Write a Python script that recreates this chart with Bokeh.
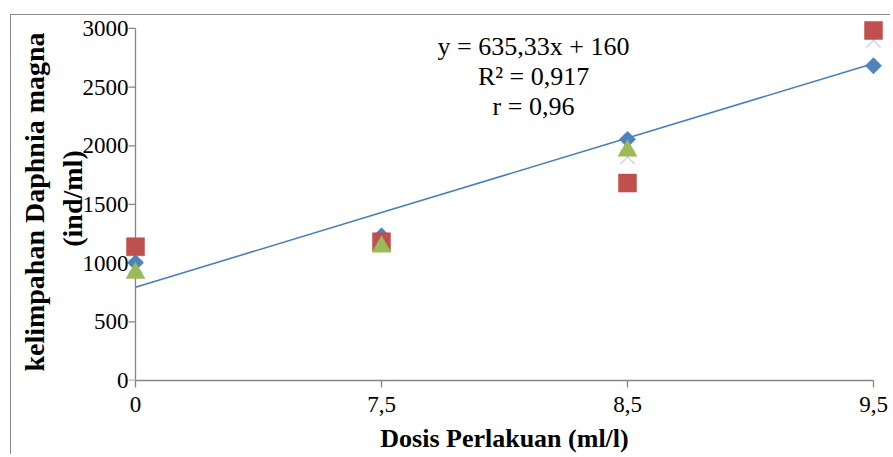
import numpy as np
from bokeh.plotting import figure
from bokeh.models import Range1d, FixedTicker
from bokeh.models import Label
from bokeh.embed import file_html
from bokeh.resources import INLINE

# ---- data ----
x_labels = ["0", "7,5", "8,5", "9,5"]
x_pos = [1, 2, 3, 4]
y_ticks = [0, 500, 1000, 1500, 2000, 2500, 3000]
series_blue = [1004, 1233, 2055, 2682]     # diamonds
series_red = [1140, 1182, 1682, 2983]      # squares
series_green = [915, 1140, 1958, np.nan]   # triangles
series_x = [975, 1160, 1905, 2898]         # pale crosses
trend_slope = 635.33
trend_intercept = 160
eq_lines = ["y = 635,33x + 160", "R² = 0,917", "r = 0,96"]

FONT = "Liberation Serif"
AX = "#868686"

W, H = 880, 440
PXX = 246.0                # px per category step
PXY = 0.118                # px per unit on y
PADX = 15 / PXX            # padding so edge markers are not clipped
PADY_TOP = 12 / PXY
p = figure(width=W, height=H, output_backend="svg", toolbar_location=None,
           x_range=Range1d(1 - PADX, 4 + PADX), y_range=Range1d(0, 3000 + PADY_TOP),
           min_border_left=109, min_border_right=3, min_border_top=1,
           min_border_bottom=73)
p.margin = (14, 0, 0, 10)
p.styles = {"border-top": "1px solid #8c8c8c", "border-left": "1px solid #8c8c8c"}
p.outline_line_color = None
p.xgrid.visible = False
p.ygrid.visible = False
p.background_fill_color = "white"
p.border_fill_color = "white"

# x axis
xa = p.xaxis[0]
xa.axis_line_color = AX
xa.axis_line_width = 1.3
xa.major_tick_line_color = AX
xa.major_tick_line_width = 1.3
xa.minor_tick_line_color = None
xa.major_tick_in = 0
xa.major_tick_out = 7
xa.major_label_text_font = FONT
xa.major_label_text_font_size = "23px"
xa.major_label_text_color = "black"
xa.ticker = FixedTicker(ticks=x_pos)
xa.bounds = (1, 4)
xa.major_label_overrides = {k: v for k, v in zip(x_pos, x_labels)}
xa.major_label_standoff = 9
xa.axis_label = "Dosis Perlakuan (ml/l)"
xa.axis_label_text_font = FONT
xa.axis_label_text_font_style = "bold"
xa.axis_label_text_font_size = "26px"
xa.axis_label_text_color = "black"
xa.axis_label_standoff = 9

# y axis: labels from the axis, line/ticks drawn at x = first category
ya = p.yaxis[0]
ya.ticker = FixedTicker(ticks=y_ticks)
ya.axis_line_color = None
ya.major_tick_line_color = None
ya.minor_tick_line_color = None
ya.major_tick_in = 0
ya.major_tick_out = 0
ya.major_label_standoff = -8
ya.major_label_text_font = FONT
ya.major_label_text_font_size = "23px"
ya.major_label_text_color = "black"
ya.axis_label = "kelimpahan  Daphnia magna\n(ind/ml)"
ya.axis_label_text_font = FONT
ya.axis_label_text_font_style = "bold"
ya.axis_label_text_font_size = "28px"
ya.axis_label_text_color = "black"
ya.axis_label_standoff = -8

yt = np.array(y_ticks, dtype=float)
p.segment(x0=[x_pos[0]], y0=[y_ticks[0]], x1=[x_pos[0]], y1=[y_ticks[-1]],
          line_color=AX, line_width=1.3)
p.segment(x0=np.full(len(yt), x_pos[0] - 7 / PXX), y0=yt,
          x1=np.full(len(yt), x_pos[0]), y1=yt, line_color=AX, line_width=1.3)

# trend line
tx = np.array(x_pos, dtype=float)
ty = trend_slope * tx + trend_intercept
p.line(tx, ty, line_color="#4a7ebb", line_width=1.6)

# markers
p.scatter(x_pos, series_x, marker="x", size=20, line_color="#cfc8e6", line_width=1.2)
p.scatter(x_pos, series_blue, marker="square", angle=np.pi / 4, size=11.5,
          fill_color="#4f81bd", line_color="#4f81bd", line_width=0.5)
p.scatter(x_pos, series_red, marker="square", size=18,
          fill_color="#c0504d", line_color="#c0504d", line_width=0.5)
p.scatter(x_pos, series_green, marker="triangle", size=19,
          fill_color="#9bbb59", line_color="#9bbb59", line_width=0.5)

# equation text
for i, t in enumerate(eq_lines):
    p.add_layout(Label(x=2.618, y=2847 - i * 254, text=t, text_font=FONT,
                       text_font_size="26px", text_align="center",
                       text_baseline="middle", text_color="black"))

open("out.html", "w").write(file_html(p, INLINE))
